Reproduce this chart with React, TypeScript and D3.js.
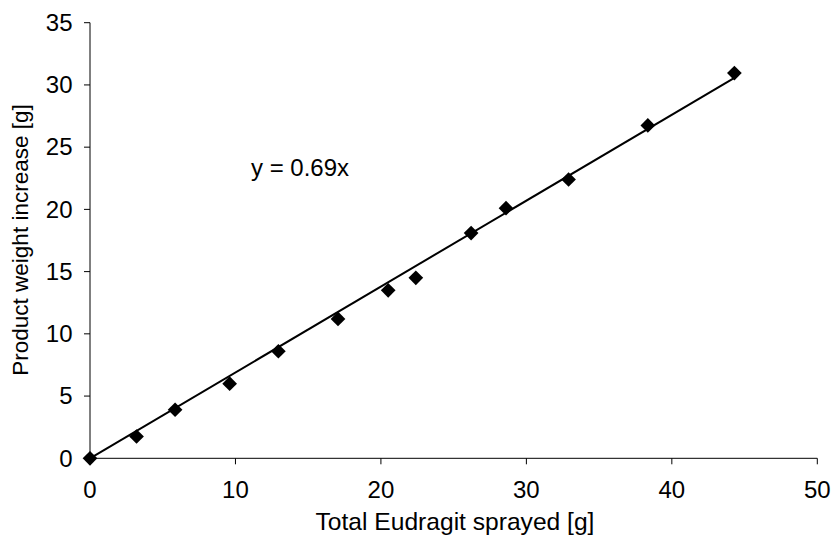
import React from "react";
import * as d3 from "d3";

const sprayed = [0, 3.2, 5.85, 9.6, 12.95, 17.05, 20.5, 22.4, 26.2, 28.6, 32.9, 38.35, 44.3];
const weightIncrease = [0, 1.75, 3.9, 6.0, 8.6, 11.2, 13.5, 14.5, 18.1, 20.1, 22.4, 26.75, 30.95];
const slope = 0.69;
const xTicks = [0, 10, 20, 30, 40, 50];
const yTicks = [0, 5, 10, 15, 20, 25, 30, 35];
const equationLabel = "y = 0.69x";
const xTitle = "Total Eudragit sprayed [g]";
const yTitle = "Product weight increase [g]";

export default function App() {
  const W = 832, H = 535;
  const x = d3.scaleLinear().domain([0, 50]).range([90, 817.3]);
  const y = d3.scaleLinear().domain([0, 35]).range([458.3, 22.7]);
  const font = "'Liberation Sans', Arial, Helvetica, sans-serif";
  const diamond = d3.symbol(d3.symbolSquare, 108)()!;
  const xMax = d3.max(sprayed)!;
  const fitLine = d3.line<number>().x((d) => x(d)).y((d) => y(slope * d))([0, xMax])!;
  return (
    <svg width={W} height={H} style={{ position: "absolute", left: 0, top: 0, background: "#fff" }}>
      <g fontFamily={font} fill="#000">
        <line x1={x(0)} x2={x(50)} y1={y(0)} y2={y(0)} stroke="#000" strokeWidth={1} />
        <line x1={x(0)} x2={x(0)} y1={y(0)} y2={y(35)} stroke="#000" strokeWidth={1} />
        {xTicks.map((t) => (
          <g key={"x" + t}>
            <line x1={x(t)} x2={x(t)} y1={y(0)} y2={y(0) + 6} stroke="#000" strokeWidth={1} />
            <text x={x(t)} y={498} fontSize={24} textAnchor="middle">{t}</text>
          </g>
        ))}
        {yTicks.map((t) => (
          <g key={"y" + t}>
            <line x1={x(0) - 6} x2={x(0)} y1={y(t)} y2={y(t)} stroke="#000" strokeWidth={1} />
            <text x={72.5} y={y(t) + 8.2} fontSize={24} textAnchor="end">{t}</text>
          </g>
        ))}
        <text x={455} y={530} fontSize={24.6} textAnchor="middle">{xTitle}</text>
        <text transform={`translate(28,240) rotate(-90)`} fontSize={22.5} textAnchor="middle">{yTitle}</text>
        <path d={fitLine} stroke="#000" strokeWidth={2} fill="none" />
        {sprayed.map((v, i) => (
          <path key={"p" + i} d={diamond} transform={`translate(${x(v)},${y(weightIncrease[i])}) rotate(45)`} fill="#000" />
        ))}
        <text x={251} y={176} fontSize={24}>{equationLabel}</text>
      </g>
    </svg>
  );
}
